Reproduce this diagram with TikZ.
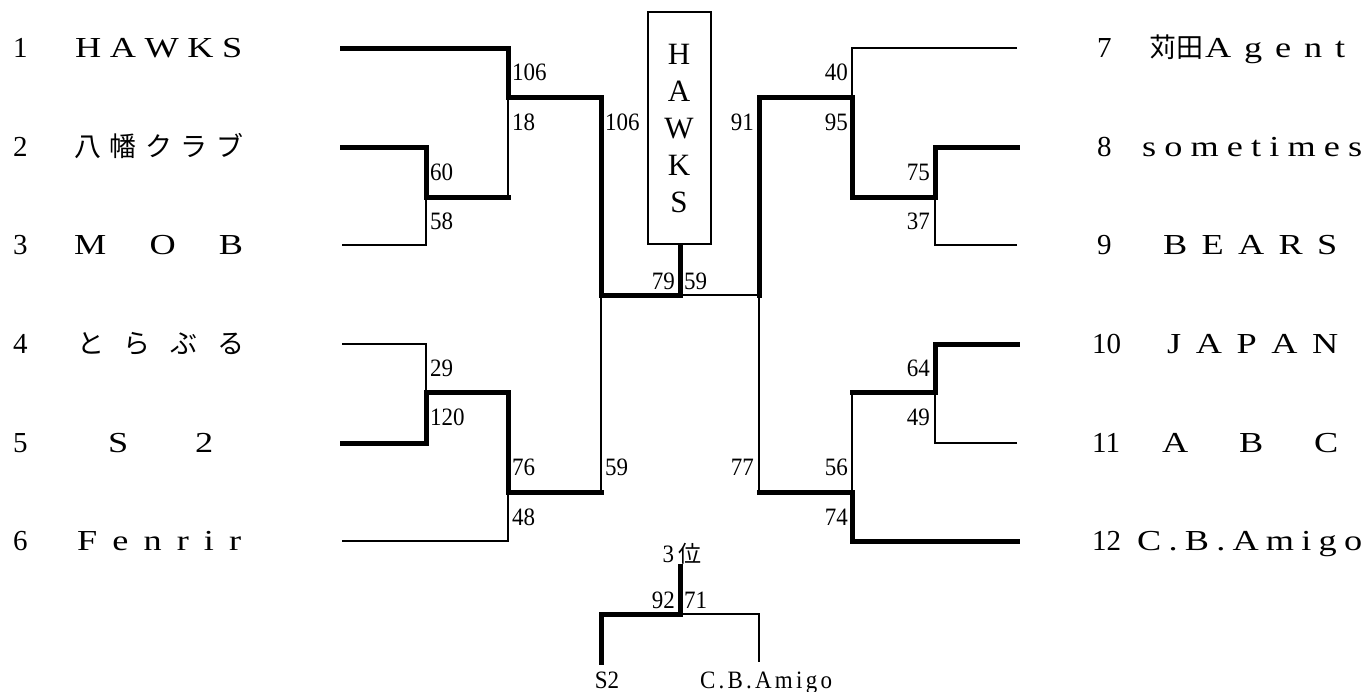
\documentclass[tikz,border=0pt]{standalone}
\usepackage{fontspec}
\setmainfont{Liberation Serif}
\newfontfamily\jpfont{Noto Sans CJK JP}
\newfontfamily\widefont[FakeStretch=1.25]{Liberation Serif}
\newfontfamily\narrowfont[FakeStretch=0.92]{Liberation Serif}
\newcommand{\nm}{\fontsize{29}{30}\widefont}
\newcommand{\jpn}{\fontsize{27}{30}\jpfont}
\tikzset{
  win/.style={line width=5pt, line cap=rect, line join=miter},
  lose/.style={line width=2.2pt, line join=miter},
  score/.style={font=\fontsize{25}{25}\narrowfont, inner sep=0pt},
  tname/.style={anchor=base west, inner sep=0pt, font=\nm},
  tnum/.style={anchor=base west, inner sep=0pt, font=\fontsize{29}{30}\selectfont},
  champbox/.style={draw, line width=2pt, minimum width=63pt, minimum height=232pt, inner sep=0pt, align=center, font=\fontsize{31}{37}\selectfont},
}
\begin{document}
\begin{tikzpicture}[x=1pt,y=-1pt]
\useasboundingbox (0,0) rectangle (1367,691);
% team line ends
\coordinate (t1) at (342,48);
\coordinate (t2) at (342,147);
\coordinate (t3) at (342,245);
\coordinate (t4) at (342,344);
\coordinate (t5) at (342,443);
\coordinate (t6) at (342,541);
\coordinate (t7) at (1017,48);
\coordinate (t8) at (1017,147);
\coordinate (t9) at (1017,245);
\coordinate (t10) at (1017,344);
\coordinate (t11) at (1017,443);
\coordinate (t12) at (1017,541);
% junctions
\coordinate (mA) at (426,197);
\coordinate (mB) at (508,97);
\coordinate (mC) at (426,392);
\coordinate (mD) at (508,492);
\coordinate (mE) at (601,295);
\coordinate (F) at (680,295);
\coordinate (mAr) at (935,197);
\coordinate (mBr) at (852,97);
\coordinate (mCr) at (935,392);
\coordinate (mDr) at (852,492);
\coordinate (mEr) at (759,295);
\coordinate (top3) at (680,566);
\coordinate (T) at (680,614);
\coordinate (s2end) at (601,662);
\coordinate (cbend) at (759,662);

\node[champbox] (champ) at (679,128) {H\\A\\W\\K\\S};

% left bracket
\draw[lose] (mA -| mB) -- (mB);
\draw[lose] (t3) -| (mA);
\draw[lose] (t4) -| (mC);
\draw[lose] (t6) -| (mD);
\draw[lose] (mD -| mE) -- (mE);
\draw[win] (t1) -| (mB) -| (mE) -- (F) -- (champ.south -| F);
\draw[win] (t2) -| (mA) -- (mA -| mB);
\draw[win] (t5) -| (mC) -- (mC -| mD) -- (mD) -- (mD -| mE);
% right bracket
\draw[lose] (t7) -| (mBr);
\draw[lose] (t9) -| (mAr);
\draw[lose] (mEr) -- (F);
\draw[lose] (t11) -| (mCr);
\draw[lose] (mCr -| mDr) -- (mDr);
\draw[lose] (mDr -| mEr) -- (mEr);
\draw[win] (t8) -| (mAr) -- (mAr -| mBr) -- (mBr) -- (mBr -| mEr) -- (mEr);
\draw[win] (t10) -| (mCr) -- (mCr -| mDr);
\draw[win] (t12) -| (mDr) -- (mDr -| mEr);
% third place
\draw[lose] (T) -| (cbend);
\draw[win] (top3) -- (T) -| (s2end);

% scores
\node[score, anchor=west] (sa) at (512,72) {106};
\node[score, anchor=west] (sb) at (512,122) {18};
\node[score, anchor=west] (sc) at (430,172) {60};
\node[score, anchor=west] (sd) at (430,221) {58};
\node[score, anchor=west] (se) at (605,122) {106};
\node[score, anchor=east] (sf) at (675,281) {79};
\node[score, anchor=west] (sg) at (684,281) {59};
\node[score, anchor=west] (sh) at (430,368) {29};
\node[score, anchor=west] (si) at (430,417) {120};
\node[score, anchor=west] (sj) at (512,467) {76};
\node[score, anchor=west] (sk) at (512,517) {48};
\node[score, anchor=west] (sl) at (605,467) {59};
\node[score, anchor=east] (ra) at (848,72) {40};
\node[score, anchor=east] (rb) at (848,122) {95};
\node[score, anchor=east] (rc) at (930,172) {75};
\node[score, anchor=east] (rd) at (930,221) {37};
\node[score, anchor=east] (re) at (754,122) {91};
\node[score, anchor=east] (rf) at (930,368) {64};
\node[score, anchor=east] (rg) at (930,417) {49};
\node[score, anchor=east] (rh) at (754,467) {77};
\node[score, anchor=east] (ri) at (848,467) {56};
\node[score, anchor=east] (rj) at (848,517) {74};
\node[score, anchor=east] (ba) at (675,600) {92};
\node[score, anchor=west] (bb) at (684,600) {71};

% bottom labels
\node[inner sep=0pt, font=\fontsize{25}{25}\narrowfont] (third) at (682,554) {3\,{\fontsize{23}{23}\jpfont 位}};
\node[inner sep=0pt, font=\fontsize{25}{25}\narrowfont, anchor=base] (lS2) at (607,688) {S2};
\node[inner sep=0pt, font=\fontsize{25}{25}\narrowfont, anchor=base] (lCB) at (766,688) {\makebox[132pt][s]{C\hfill.\hfill B\hfill.\hfill A\hfill m\hfill i\hfill g\hfill o}};

% left team names
\node[tnum] (n1) at (13,57.5) {1};
\node[tnum] (n2) at (13,156.5) {2};
\node[tnum] (n3) at (13,254.5) {3};
\node[tnum] (n4) at (13,353.5) {4};
\node[tnum] (n5) at (13,452.5) {5};
\node[tnum] (n6) at (13,550.5) {6};
\node[tname] (w1) at (75,57.5) {\makebox[167pt][s]{H\hfill A\hfill W\hfill K\hfill S}};
\node[tname] (w2) at (74,156.5) {\makebox[169pt][s]{\jpn 八\hfill 幡\hfill ク\hfill ラ\hfill ブ}};
\node[tname] (w3) at (74,254.5) {\makebox[169pt][s]{M\hfill O\hfill B}};
\node[tname] (w4) at (77,353.5) {\makebox[167pt][s]{\jpn と\hfill ら\hfill ぶ\hfill る}};
\node[tname] (w5) at (108,452.5) {\makebox[105pt][s]{S\hfill 2}};
\node[tname] (w6) at (77,550.5) {\makebox[164pt][s]{F\hfill e\hfill n\hfill r\hfill i\hfill r}};
% right team names
\node[tnum] (n7) at (1097,57.5) {7};
\node[tnum] (n8) at (1097,156.5) {8};
\node[tnum] (n9) at (1097,254.5) {9};
\node[tnum] (n10) at (1092,353.5) {10};
\node[tnum] (n11) at (1092,452.5) {11};
\node[tnum] (n12) at (1092,550.5) {12};
\node[tname] (w7) at (1149,57.5) {\makebox[196pt][s]{{\jpn 苅田}\hspace{2pt}A\hfill g\hfill e\hfill n\hfill t}};
\node[tname] (w8) at (1142,156.5) {\makebox[220pt][s]{s\hfill o\hfill m\hfill e\hfill t\hfill i\hfill m\hfill e\hfill s}};
\node[tname] (w9) at (1163,254.5) {\makebox[174pt][s]{B\hfill E\hfill A\hfill R\hfill S}};
\node[tname] (w10) at (1167,353.5) {\makebox[171pt][s]{J\hfill A\hfill P\hfill A\hfill N}};
\node[tname] (w11) at (1162,452.5) {\makebox[176pt][s]{A\hfill B\hfill C}};
\node[tname] (w12) at (1137,550.5) {\makebox[225pt][s]{C\hfill .\hfill B\hfill .\hfill A\hfill m\hfill i\hfill g\hfill o}};
\end{tikzpicture}
\end{document}
